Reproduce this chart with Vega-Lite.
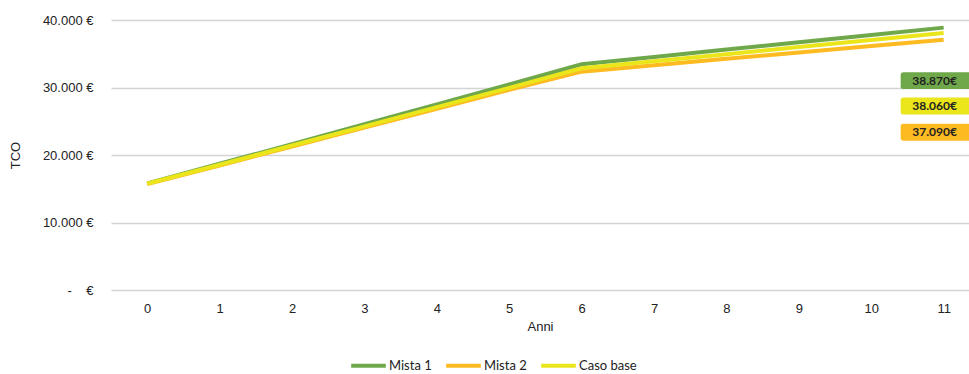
{
  "$schema": "https://vega.github.io/schema/vega-lite/v6.json",
  "width": 858,
  "height": 270,
  "autosize": {"type": "none"},
  "padding": {"left": 111, "top": 20, "right": 0, "bottom": 84},
  "background": "white",
  "config": {
    "view": {"stroke": null},
    "font": "Liberation Sans",
    "axis": {"labelFont": "Liberation Sans", "titleFont": "Liberation Sans", "labelColor": "#222", "titleColor": "#222"}
  },
  "datasets": {
    "tco": [
      {"anno": 0, "serie": "Mista 1", "tco": 15800},
      {"anno": 1, "serie": "Mista 1", "tco": 18700},
      {"anno": 2, "serie": "Mista 1", "tco": 21600},
      {"anno": 3, "serie": "Mista 1", "tco": 24550},
      {"anno": 4, "serie": "Mista 1", "tco": 27500},
      {"anno": 5, "serie": "Mista 1", "tco": 30450},
      {"anno": 6, "serie": "Mista 1", "tco": 33450},
      {"anno": 7, "serie": "Mista 1", "tco": 34530},
      {"anno": 8, "serie": "Mista 1", "tco": 35620},
      {"anno": 9, "serie": "Mista 1", "tco": 36700},
      {"anno": 10, "serie": "Mista 1", "tco": 37790},
      {"anno": 11, "serie": "Mista 1", "tco": 38870},
      {"anno": 0, "serie": "Mista 2", "tco": 15700},
      {"anno": 1, "serie": "Mista 2", "tco": 18450},
      {"anno": 2, "serie": "Mista 2", "tco": 21250},
      {"anno": 3, "serie": "Mista 2", "tco": 24050},
      {"anno": 4, "serie": "Mista 2", "tco": 26850},
      {"anno": 5, "serie": "Mista 2", "tco": 29650},
      {"anno": 6, "serie": "Mista 2", "tco": 32350},
      {"anno": 7, "serie": "Mista 2", "tco": 33300},
      {"anno": 8, "serie": "Mista 2", "tco": 34250},
      {"anno": 9, "serie": "Mista 2", "tco": 35200},
      {"anno": 10, "serie": "Mista 2", "tco": 36150},
      {"anno": 11, "serie": "Mista 2", "tco": 37090},
      {"anno": 0, "serie": "Caso base", "tco": 15750},
      {"anno": 1, "serie": "Caso base", "tco": 18550},
      {"anno": 2, "serie": "Caso base", "tco": 21400},
      {"anno": 3, "serie": "Caso base", "tco": 24250},
      {"anno": 4, "serie": "Caso base", "tco": 27100},
      {"anno": 5, "serie": "Caso base", "tco": 29950},
      {"anno": 6, "serie": "Caso base", "tco": 32850},
      {"anno": 7, "serie": "Caso base", "tco": 33900},
      {"anno": 8, "serie": "Caso base", "tco": 34940},
      {"anno": 9, "serie": "Caso base", "tco": 35990},
      {"anno": 10, "serie": "Caso base", "tco": 37020},
      {"anno": 11, "serie": "Caso base", "tco": 38060}
    ],
    "etichette": [
      {"anno": 11, "serie": "Mista 1", "tco": 38870, "testo": "38.870€"},
      {"anno": 11, "serie": "Mista 2", "tco": 37090, "testo": "37.090€"},
      {"anno": 11, "serie": "Caso base", "tco": 38060, "testo": "38.060€"}
    ]
  },
  "layer": [
    {
      "data": {"name": "tco"},
      "mark": {"type": "line", "strokeWidth": 4, "strokeJoin": "miter"},
      "encoding": {
        "x": {
          "field": "anno", "type": "quantitative",
          "scale": {"domain": [-0.5, 11.35], "nice": false, "zero": false},
          "axis": {
            "values": [0,1,2,3,4,5,6,7,8,9,10,11], "format": "d",
            "title": "Anni", "titleFontSize": 13, "titleFontWeight": "normal", "titlePadding": 5,
            "labelFontSize": 13, "labelPadding": 12, "ticks": false, "domain": false, "grid": false
          }
        },
        "y": {
          "field": "tco", "type": "quantitative",
          "scale": {"domain": [0, 40000], "nice": false},
          "axis": {
            "values": [0, 10000, 20000, 30000, 40000],
            "labelExpr": "datum.value == 0 ? '-\u00a0\u00a0\u00a0\u00a0€' : replace(format(datum.value, ',.0f'), ',', '.') + ' €'",
            "title": "TCO", "titleFontSize": 13, "titleFontWeight": "normal", "titlePadding": 20,
            "labelFontSize": 13, "labelPadding": 18, "ticks": false, "domain": false,
            "gridColor": "#d4d4d4", "gridWidth": 1.5
          }
        },
        "color": {
          "field": "serie", "type": "nominal",
          "scale": {"domain": ["Mista 1", "Mista 2", "Caso base"], "range": ["#6FA84A", "#FDBA21", "#EBE61C"]},
          "legend": {
            "title": null, "orient": "none", "direction": "horizontal",
            "legendX": 238, "legendY": 326,
            "symbolType": "stroke", "symbolSize": 1200, "symbolStrokeWidth": 4,
            "labelFontSize": 13, "labelFont": "Lato", "labelColor": "#222", "labelOffset": 1, "columnPadding": 6
          }
        },
        "order": {"field": "anno", "type": "quantitative"}
      }
    },
    {
      "data": {"name": "etichette"},
      "transform": [{"filter": "datum.serie == 'Mista 1'"}],
      "layer": [
        {"mark": {"type": "point", "filled": true, "opacity": 1, "size": 5184, "color": "#6FA84A", "xOffset": -7, "yOffset": 53,
          "shape": "M -0.92 -0.236 L 0.92 -0.236 Q 1 -0.236 1 -0.156 L 1 0.156 Q 1 0.236 0.92 0.236 L -0.92 0.236 Q -1 0.236 -1 0.156 L -1 -0.156 Q -1 -0.236 -0.92 -0.236 Z"},
          "encoding": {"x": {"field": "anno", "type": "quantitative"}, "y": {"field": "tco", "type": "quantitative"}}},
        {"mark": {"type": "text", "fontSize": 12, "font": "Lato", "fontWeight": "bold", "color": "#222", "xOffset": -9, "yOffset": 53},
          "encoding": {"x": {"field": "anno", "type": "quantitative"}, "y": {"field": "tco", "type": "quantitative"}, "text": {"field": "testo"}}}
      ]
    },
    {
      "data": {"name": "etichette"},
      "transform": [{"filter": "datum.serie == 'Caso base'"}],
      "layer": [
        {"mark": {"type": "point", "filled": true, "opacity": 1, "size": 5184, "color": "#EBE61C", "xOffset": -7, "yOffset": 73,
          "shape": "M -0.92 -0.236 L 0.92 -0.236 Q 1 -0.236 1 -0.156 L 1 0.156 Q 1 0.236 0.92 0.236 L -0.92 0.236 Q -1 0.236 -1 0.156 L -1 -0.156 Q -1 -0.236 -0.92 -0.236 Z"},
          "encoding": {"x": {"field": "anno", "type": "quantitative"}, "y": {"field": "tco", "type": "quantitative"}}},
        {"mark": {"type": "text", "fontSize": 12, "font": "Lato", "fontWeight": "bold", "color": "#222", "xOffset": -9, "yOffset": 73},
          "encoding": {"x": {"field": "anno", "type": "quantitative"}, "y": {"field": "tco", "type": "quantitative"}, "text": {"field": "testo"}}}
      ]
    },
    {
      "data": {"name": "etichette"},
      "transform": [{"filter": "datum.serie == 'Mista 2'"}],
      "layer": [
        {"mark": {"type": "point", "filled": true, "opacity": 1, "size": 5184, "color": "#FDBA21", "xOffset": -7, "yOffset": 92.5,
          "shape": "M -0.92 -0.236 L 0.92 -0.236 Q 1 -0.236 1 -0.156 L 1 0.156 Q 1 0.236 0.92 0.236 L -0.92 0.236 Q -1 0.236 -1 0.156 L -1 -0.156 Q -1 -0.236 -0.92 -0.236 Z"},
          "encoding": {"x": {"field": "anno", "type": "quantitative"}, "y": {"field": "tco", "type": "quantitative"}}},
        {"mark": {"type": "text", "fontSize": 12, "font": "Lato", "fontWeight": "bold", "color": "#222", "xOffset": -9, "yOffset": 92.5},
          "encoding": {"x": {"field": "anno", "type": "quantitative"}, "y": {"field": "tco", "type": "quantitative"}, "text": {"field": "testo"}}}
      ]
    }
  ]
}
